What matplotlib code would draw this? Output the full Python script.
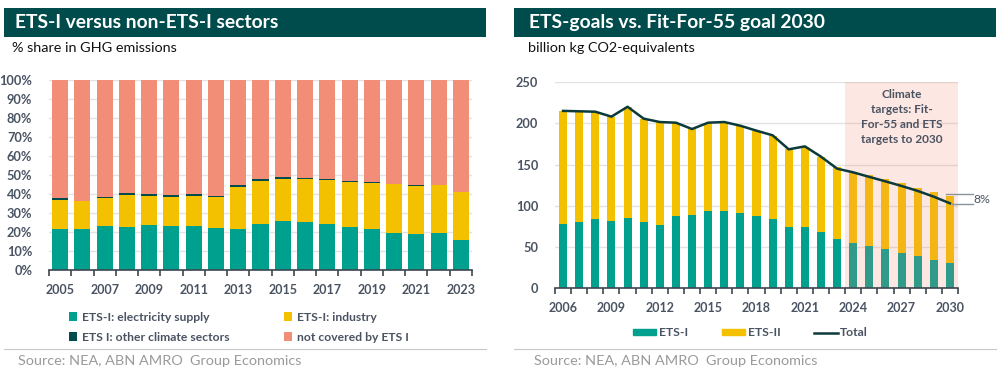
import matplotlib
matplotlib.use("Agg")
import matplotlib.pyplot as plt
from matplotlib.patches import Rectangle, Patch
from matplotlib.lines import Line2D
import numpy as np

plt.rcParams['font.family'] = ['Lato', 'DejaVu Sans']

# ---------------- data: left chart ----------------
years_left = list(range(2005, 2024))
elec_supply = [21.6, 21.4, 23.2, 22.8, 23.5, 23.2, 23.2, 22.3, 21.4, 24.0, 25.8, 25.3, 24.0, 22.8, 21.6, 19.5, 18.9, 19.3, 16.0]
industry = [15.4, 14.9, 14.9, 16.7, 15.6, 15.4, 15.7, 16.1, 22.5, 23.0, 22.3, 22.4, 23.2, 23.7, 24.4, 25.6, 25.1, 25.4, 25.2]
other_sectors = [0.7, 0.0, 0.3, 0.9, 0.9, 0.9, 1.1, 0.5, 0.8, 1.1, 0.7, 0.9, 0.9, 0.5, 0.3, 0.3, 0.6, 0.0, 0.0]
not_covered = [62.3, 63.7, 61.6, 59.6, 60.0, 60.5, 60.0, 61.1, 55.3, 51.9, 51.2, 51.4, 51.9, 53.0, 53.7, 54.6, 55.4, 55.3, 58.8]
left_labels = ["ETS-I: electricity supply", "ETS-I: industry", "ETS I: other climate sectors", "not covered by ETS I"]

# ---------------- data: right chart ----------------
years_right = list(range(2006, 2031))
ets1 = [77.5, 80, 84, 81, 85, 80, 77, 87.6, 89.3, 93.7, 93.7, 91.3, 87.6, 84, 74.7, 74.7, 68.7, 59.4, 54.9, 50.9, 47.3, 43.2, 38.8, 34.7, 30.7]
ets2 = [137.8, 134, 130, 127, 135, 125.6, 124, 113.1, 103.7, 107, 107.8, 105.7, 103.4, 100.6, 93.7, 96.9, 90, 88, 86.1, 86, 84.7, 84, 83.2, 82, 81.6]
total = [215, 214.5, 214, 208, 220, 205.6, 201.5, 200.7, 193, 200.7, 201.5, 197, 191, 185.4, 168.4, 172, 159.5, 145, 140.5, 135, 129.6, 124, 118, 111, 103]
right_labels = ["ETS-I", "ETS-II", "Total"]

TEAL = "#00a08f"
YELLOW = "#f3c100"
DARK = "#004b4b"
SALMON = "#f28e77"
HEADER = "#004c4c"
TICKC = "#4a5362"
GRID = "#e3e3e3"
LINEC = "#0c3a3a"

W, H = 1008, 378
fig = plt.figure(figsize=(W / 100, H / 100), dpi=100)
fig.patch.set_facecolor("white")


def fx(px):
    return px / W


def fy(py):
    return 1 - py / H


# headers
for x0, x1, title, sub, tx, sx in [
    (4, 486, "ETS-I versus non-ETS-I sectors", "% share in GHG emissions", 15, 12),
    (514, 996, "ETS-goals vs. Fit-For-55 goal 2030", "billion kg CO2-equivalents", 529, 528),
]:
    fig.patches.append(Rectangle((fx(x0), fy(37)), fx(x1 - x0), (37 - 8) / H,
                                 transform=fig.transFigure, facecolor=HEADER, edgecolor="none"))
    fig.text(fx(tx), fy(22.5), title, color="white", fontsize=13.9, fontweight="bold", va="center", ha="left")
    fig.text(fx(sx), fy(48), sub, color="#111111", fontsize=10.4, va="center", ha="left")
    fig.add_artist(Line2D([fx(x0), fx(x1)], [fy(349), fy(349)], color="#c8c8c8", lw=0.8))
    fig.text(fx(sx + 6), fy(361), "Source: NEA, ABN AMRO  Group Economics", color="#9a9a9a", fontsize=10.4,
             va="center", ha="left")

# ---------------- left axes ----------------
axL = fig.add_axes([fx(49), fy(270), fx(472 - 49), (270 - 80) / H])
xl = np.arange(len(years_left))
bw = 0.72
b1 = axL.bar(xl, elec_supply, bw, color=TEAL, zorder=3, label=left_labels[0])
bottom = np.array(elec_supply)
b2 = axL.bar(xl, industry, bw, bottom=bottom, color=YELLOW, zorder=3, label=left_labels[1])
bottom = bottom + np.array(industry)
b3 = axL.bar(xl, other_sectors, bw, bottom=bottom, color=DARK, zorder=3, label=left_labels[2])
bottom = bottom + np.array(other_sectors)
b4 = axL.bar(xl, not_covered, bw, bottom=bottom, color=SALMON, zorder=3, label=left_labels[3])
axL.set_xlim(-0.5, len(years_left) - 0.5)
axL.set_ylim(0, 100)
axL.set_yticks(np.arange(0, 101, 10))
axL.set_yticklabels([f"{v}%" for v in range(0, 101, 10)])
axL.set_xticks(xl[::2])
axL.set_xticklabels([str(y) for y in years_left[::2]])
axL.set_xticks(np.arange(-0.5, len(years_left), 1), minor=True)

# ---------------- right axes ----------------
axR = fig.add_axes([fx(555), fy(288.3), fx(958 - 555), (288.3 - 82) / H])
yr = np.array(years_right)
bwr = 0.5
r1 = axR.bar(yr, ets1, bwr, color=TEAL, zorder=3, label=right_labels[0])
r2 = axR.bar(yr, ets2, bwr, bottom=ets1, color=YELLOW, zorder=3, label=right_labels[1])
axR.axvspan(2023.5, 2030.5, ymin=0, ymax=1, color="#f08a6e", alpha=0.2, lw=0, zorder=4)
ln, = axR.plot(yr, total, color=LINEC, lw=1.8, zorder=5, label=right_labels[2])
axR.set_xlim(2005.5, 2030.5)
axR.set_ylim(0, 250)
axR.set_yticks(np.arange(0, 251, 50))
axR.set_xticks(yr[::3])
axR.set_xticklabels([str(y) for y in years_right[::3]])
axR.set_xticks(np.arange(2005.5, 2031, 1), minor=True)
axR.text(2027.0, 241.5, "Climate\ntargets: Fit-\nFor-55 and ETS\ntargets to 2030", ha="center", va="top",
         fontsize=8.6, fontweight="bold", color=TICKC, linespacing=1.45, zorder=6)

# 8% annotation
axR.plot([2029.75, 2031.4], [ets1[-1] + ets2[-1] + 1.5, ets1[-1] + ets2[-1] + 1.5], color="#8c939b", lw=1,
         clip_on=False, zorder=6)
axR.plot([2030.1, 2031.4], [total[-1] - 0.5, total[-1] - 0.5], color="#8c939b", lw=1, clip_on=False, zorder=6)
axR.text(2031.45, (ets1[-1] + ets2[-1] + total[-1]) / 2, "8%", fontsize=8.8, color=TICKC, ha="left",
         va="center", clip_on=False)

for ax in (axL, axR):
    for s in ("top", "right", "left"):
        ax.spines[s].set_visible(False)
    ax.spines["bottom"].set_color("#3c4650")
    ax.spines["bottom"].set_linewidth(1.2)
    ax.spines["bottom"].set_zorder(7)
    ax.yaxis.grid(True, color=GRID, lw=1, zorder=0)
    ax.set_axisbelow(True)
    ax.tick_params(axis="y", length=0, pad=12, labelsize=9.2, labelcolor=TICKC)
    ax.tick_params(axis="x", which="major", length=0, pad=10, labelsize=9.0, labelcolor=TICKC)
    ax.tick_params(axis="x", which="minor", length=4, width=1.2, color="#3c4650", direction="out")
    for lab in ax.get_xticklabels() + ax.get_yticklabels():
        lab.set_fontweight("bold")

# legends
legL = fig.legend([b1, b3, b2, b4], [left_labels[0], left_labels[2], left_labels[1], left_labels[3]],
                  ncol=2, loc="upper left", bbox_to_anchor=(fx(58), fy(301)), frameon=False,
                  handlelength=0.7, handleheight=0.7, handletextpad=0.4, columnspacing=4.45,
                  labelspacing=0.75, fontsize=8.7)
for t in legL.get_texts():
    t.set_color(TICKC)
    t.set_fontweight("bold")

handles_r = [Patch(color=TEAL), Patch(color=YELLOW), Line2D([0], [0], color=LINEC, lw=1.8)]
legR = fig.legend(handles_r, right_labels, ncol=3, loc="center left", bbox_to_anchor=(fx(622), fy(333)),
                  frameon=False, handlelength=1.95, handleheight=0.45, handletextpad=0.2, columnspacing=2.8,
                  fontsize=8.7)
for t in legR.get_texts():
    t.set_color(TICKC)
    t.set_fontweight("bold")

fig.savefig("out.png", dpi=100, facecolor="white")
